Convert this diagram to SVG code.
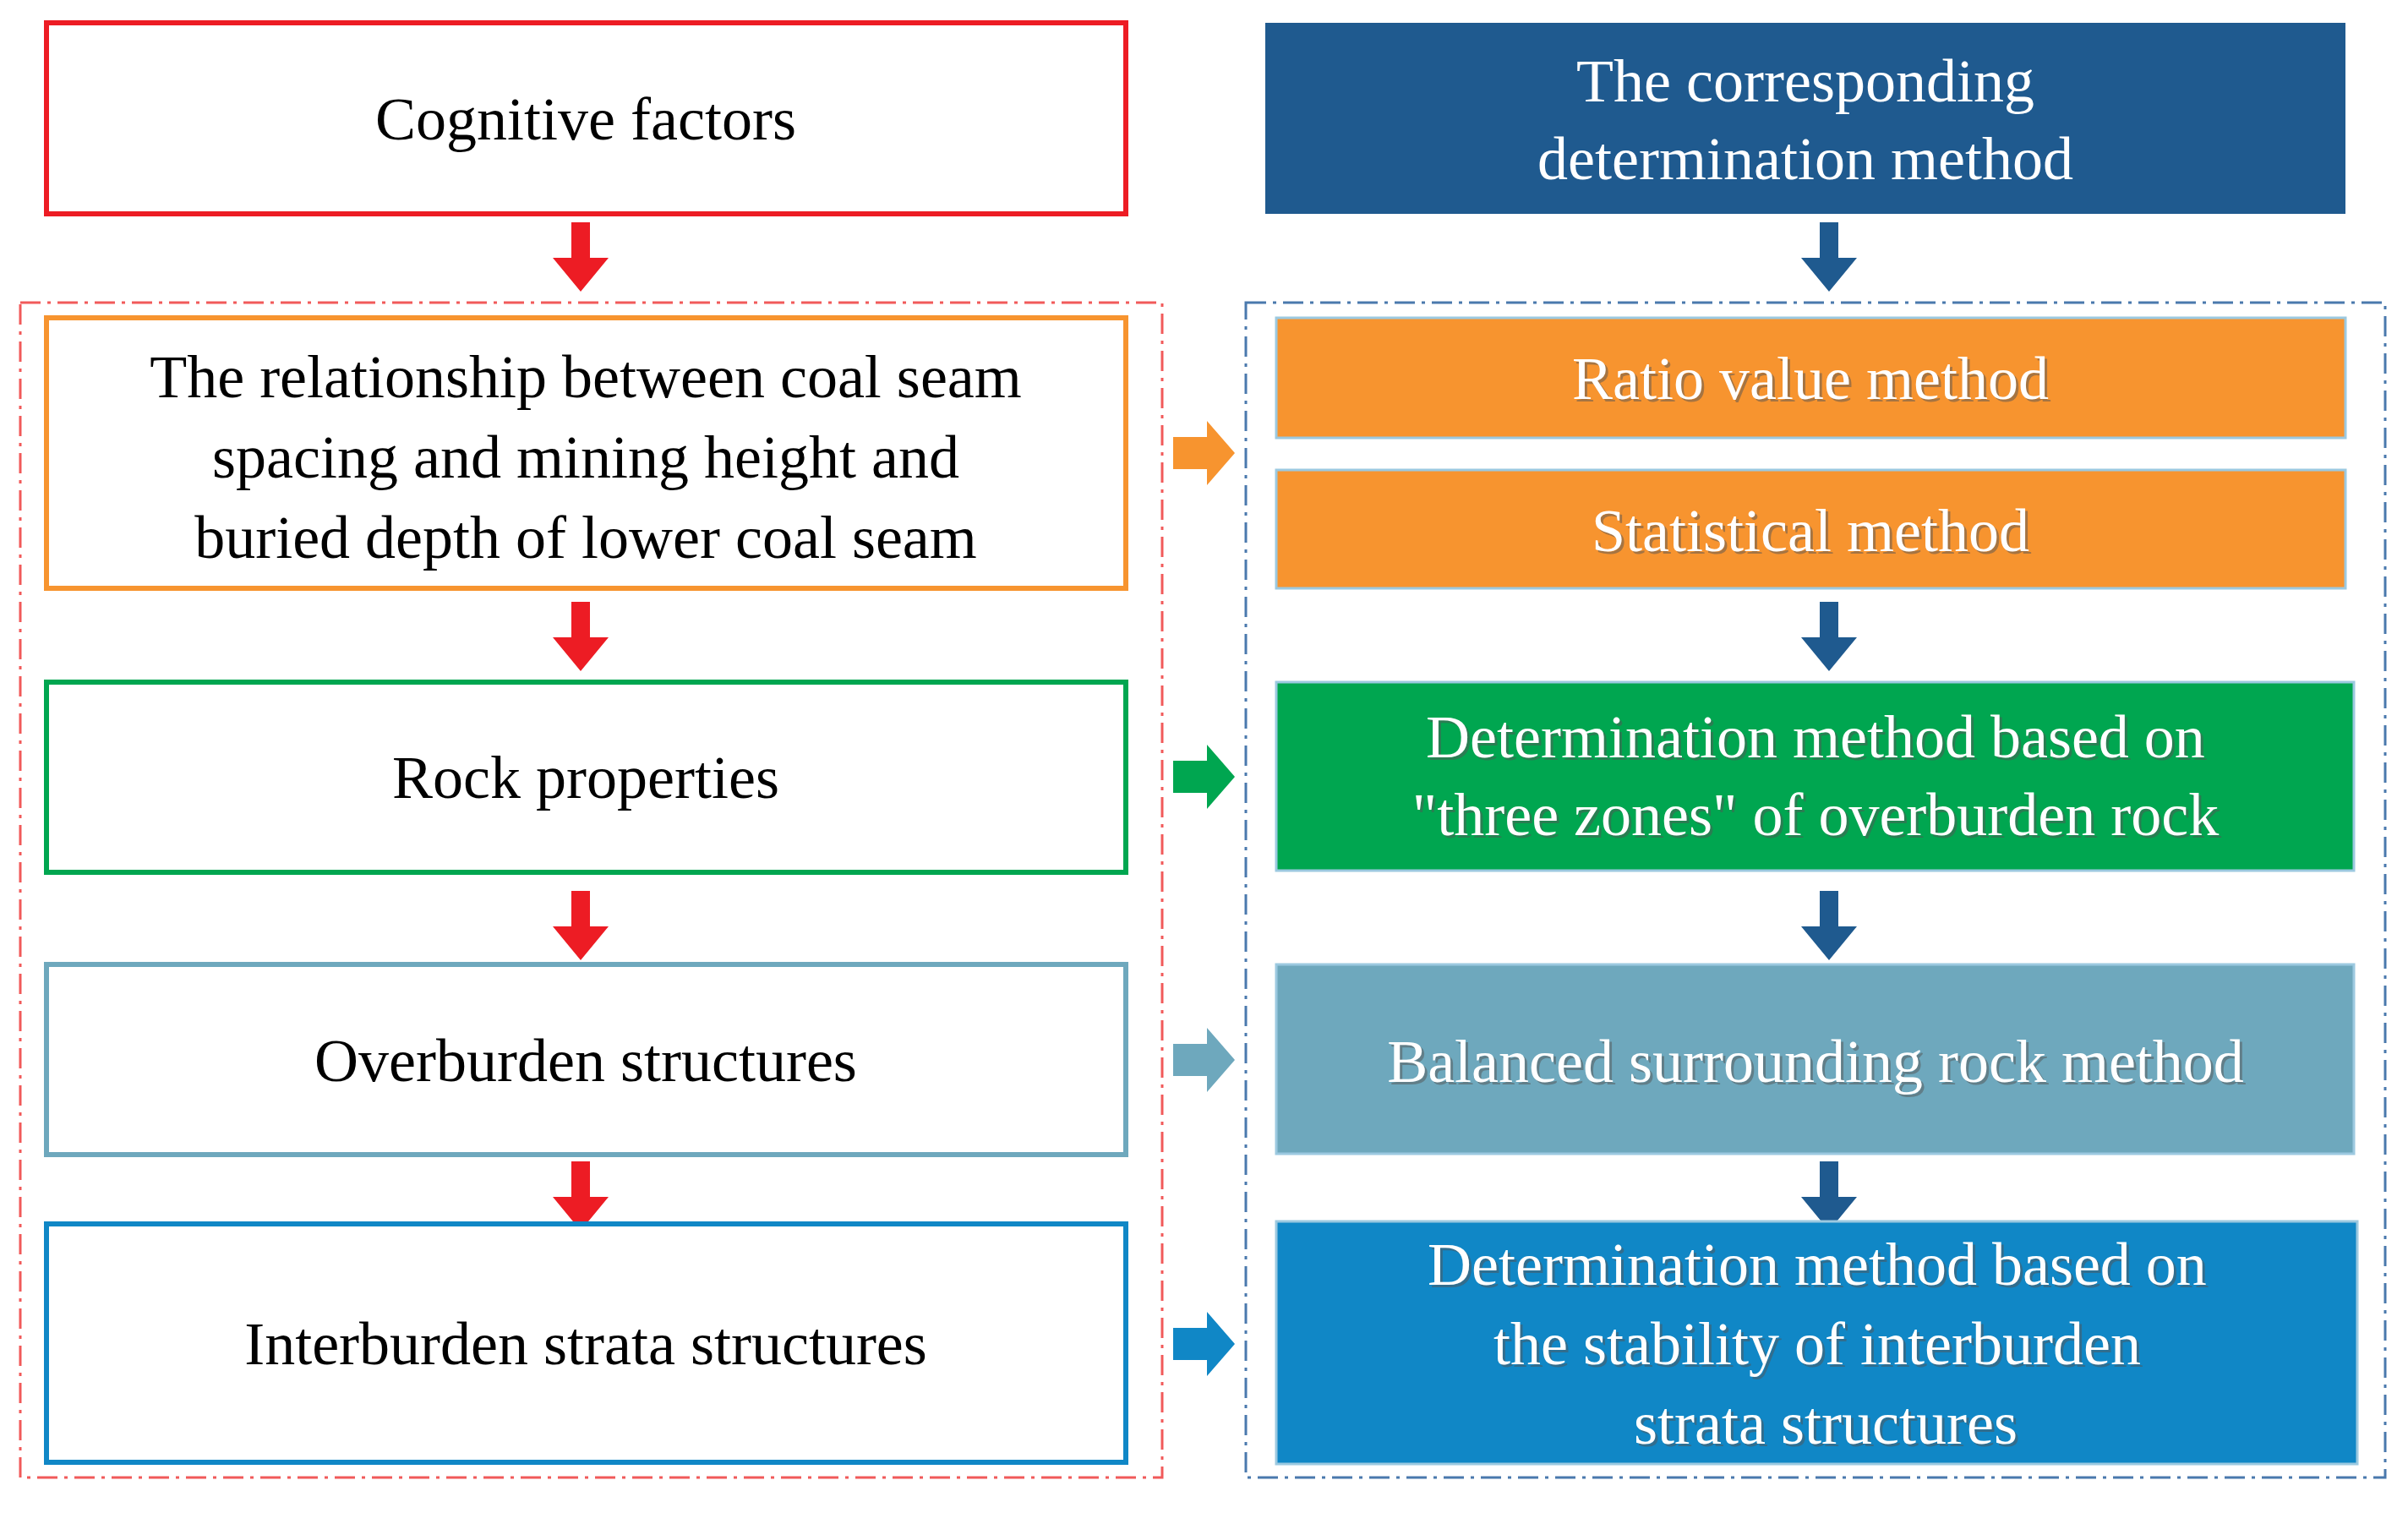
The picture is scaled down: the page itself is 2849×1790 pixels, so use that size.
<svg xmlns="http://www.w3.org/2000/svg" width="2849" height="1790" viewBox="0 0 2849 1790">
<defs>
<style>
.t{font-family:"Liberation Serif","Times New Roman",serif;font-size:72px;text-anchor:middle}
.w{fill:#fff}
.s{fill:#555;opacity:0.5}
.ob{fill:#fff;stroke-width:6}
</style>
<path id="dn" d="M-11,0 H11 V42 H33 L0,82 L-33,42 H-11 Z"/>
<path id="rt" d="M0,-19 H40 V-38 L73,0 L40,38 V19 H0 Z"/>
</defs>
<rect width="2849" height="1790" fill="#fff"/>
<g id="containers" fill="none" stroke-width="3" stroke-dasharray="24,8,4,8">
<rect x="24" y="358" width="1351" height="1390" stroke="#f15a5a"/>
<rect x="1474" y="358" width="1348" height="1390" stroke="#4a79ad"/>
</g>
<g id="connectors">
<g fill="#ed1c24">
<use href="#dn" x="687" y="263"/><use href="#dn" x="687" y="712"/><use href="#dn" x="687" y="1054"/><use href="#dn" x="687" y="1374"/>
</g>
<g fill="#1f5a8f">
<use href="#dn" x="2164" y="263"/><use href="#dn" x="2164" y="712"/><use href="#dn" x="2164" y="1054"/><use href="#dn" x="2164" y="1374"/>
</g>
<use href="#rt" x="1388" y="536" fill="#f7942f"/>
<use href="#rt" x="1388" y="919" fill="#00a650"/>
<use href="#rt" x="1388" y="1254" fill="#6ea8bd"/>
<use href="#rt" x="1388" y="1590" fill="#1087c6"/>
</g>
<g id="n1"><rect class="ob" x="55" y="27" width="1277" height="226" stroke="#ed1c24"/><text class="t" x="693" y="165">Cognitive  factors</text></g>
<g id="n2"><rect class="ob" x="55" y="376" width="1277" height="320" stroke="#f7942f"/>
<text class="t" x="693" y="470">The relationship between coal seam</text>
<text class="t" x="693" y="565">spacing and mining height and</text>
<text class="t" x="693" y="660">buried depth of lower coal seam</text></g>
<g id="n3"><rect class="ob" x="55" y="807" width="1277" height="225" stroke="#00a650"/><text class="t" x="693" y="944">Rock properties</text></g>
<g id="n4"><rect class="ob" x="55" y="1141" width="1277" height="225" stroke="#6ea8bd"/><text class="t" x="693" y="1279">Overburden  structures</text></g>
<g id="n5"><rect class="ob" x="55" y="1448" width="1277" height="282" stroke="#1087c6"/><text class="t" x="693" y="1614">Interburden strata structures</text></g>
<g id="m0"><rect x="1497" y="27" width="1278" height="226" fill="#1f5a8f"/>
<text class="t w" x="2136" y="120">The corresponding</text><text class="t w" x="2136" y="212">determination  method</text></g>
<g id="m1"><rect x="1510" y="376" width="1265" height="142" fill="#f7942f" stroke="#9cc9e0" stroke-width="3"/>
<text class="t s" x="2145" y="475">Ratio value method</text><text class="t w" x="2142" y="472">Ratio value method</text></g>
<g id="m2"><rect x="1510" y="556" width="1265" height="140" fill="#f7942f" stroke="#9cc9e0" stroke-width="3"/>
<text class="t s" x="2145" y="655">Statistical method</text><text class="t w" x="2142" y="652">Statistical method</text></g>
<g id="m3"><rect x="1510" y="807" width="1275" height="223" fill="#00a650" stroke="#9cc9e0" stroke-width="3"/>
<text class="t s" x="2151" y="899">Determination method based on</text><text class="t w" x="2148" y="896">Determination method based on</text>
<text class="t s" x="2151" y="991">"three zones"  of overburden rock</text><text class="t w" x="2148" y="988">"three zones"  of overburden rock</text></g>
<g id="m4"><rect x="1510" y="1141" width="1275" height="224" fill="#6ea8bd" stroke="#9cc9e0" stroke-width="3"/>
<text class="t s" x="2151" y="1283">Balanced  surrounding  rock method</text><text class="t w" x="2148" y="1280">Balanced  surrounding  rock method</text></g>
<g id="m5"><rect x="1510" y="1445" width="1279" height="287" fill="#1087c6" stroke="#9cc9e0" stroke-width="3"/>
<text class="t s" x="2153" y="1523">Determination method based on</text><text class="t w" x="2150" y="1520">Determination method based on</text>
<text class="t s" x="2153" y="1617">the stability of interburden</text><text class="t w" x="2150" y="1614">the stability of interburden</text>
<text class="t s" x="2163" y="1711">strata structures</text><text class="t w" x="2160" y="1708">strata structures</text></g>
</svg>
